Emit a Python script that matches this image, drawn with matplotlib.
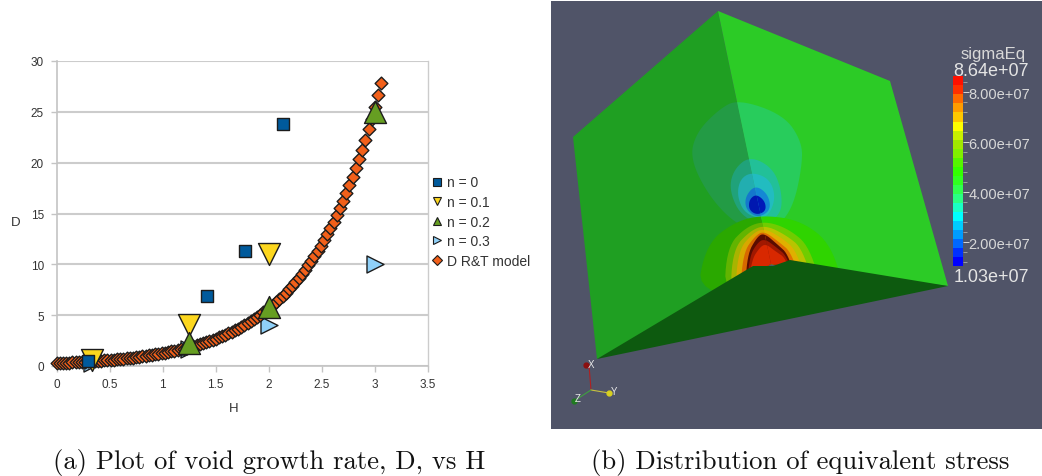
import matplotlib
matplotlib.use("Agg")
import matplotlib.pyplot as plt
from matplotlib.patches import Polygon
from matplotlib.lines import Line2D

W, H_PX = 1042, 477

# left panel data
model_h = [0, .03, .06, .09, .12, .15, .18, .21, .24, .27, .30, .33, .36, .39, .42, .45, .48, .51, .54, .57,
           .60, .63, .66, .69, .72, .75, .78, .81, .84, .87, .90, .93, .96, .99, 1.02, 1.05, 1.08, 1.11, 1.14, 1.17,
           1.20, 1.23, 1.26, 1.29, 1.32, 1.35, 1.38, 1.41, 1.44, 1.47, 1.50, 1.53, 1.56, 1.59, 1.62, 1.65, 1.68, 1.71, 1.74, 1.77,
           1.80, 1.83, 1.86, 1.89, 1.92, 1.95, 1.98, 2.01, 2.04, 2.07, 2.10, 2.13, 2.16, 2.19, 2.22, 2.25, 2.28, 2.31, 2.34, 2.37,
           2.40, 2.43, 2.46, 2.49, 2.52, 2.55, 2.58, 2.61, 2.64, 2.67, 2.70, 2.73, 2.76, 2.79, 2.82, 2.85, 2.88, 2.91, 2.94, 2.97,
           3.00, 3.03, 3.06]
model_d = [.283, .296, .310, .324, .339, .354, .371, .388, .406, .424, .444, .464, .486, .508, .531, .556, .581, .608, .636, .665,
           .696, .728, .761, .796, .833, .871, .911, .953, .997, 1.043, 1.091, 1.141, 1.194, 1.249, 1.306, 1.366, 1.429, 1.495, 1.564, 1.636,
           1.711, 1.790, 1.872, 1.958, 2.048, 2.143, 2.241, 2.345, 2.453, 2.565, 2.683, 2.807, 2.936, 3.071, 3.213, 3.360, 3.515, 3.677, 3.846, 4.023,
           4.208, 4.402, 4.604, 4.816, 5.038, 5.270, 5.512, 5.766, 6.031, 6.309, 6.599, 6.903, 7.221, 7.553, 7.901, 8.264, 8.645, 9.043, 9.459, 9.894,
           10.35, 10.83, 11.32, 11.85, 12.39, 12.96, 13.56, 14.18, 14.83, 15.52, 16.23, 16.98, 17.76, 18.58, 19.43, 20.33, 21.26, 22.24, 23.27, 24.34,
           25.46, 26.63, 27.85]
n0_h = [0.30, 1.415, 1.775, 2.13]
n0_d = [0.5, 6.9, 11.35, 23.85]
n1_h = [0.33, 1.25, 2.0]
n1_d = [0.6, 4.0, 11.0]
n2_h = [1.25, 2.0, 3.0]
n2_d = [2.3, 5.8, 25.0]
n3_h = [0.33, 1.25, 2.0, 3.0]
n3_d = [0.3, 1.7, 4.0, 10.0]

# colour bar of the right panel, bottom to top
bar_colors = ["#0000ff", "#0030ff", "#0068ff", "#009cff", "#00ccff", "#00ffff", "#1affc4", "#2aff84",
              "#30ff50", "#30ff20", "#33ff00", "#55f500", "#80f000", "#a0e800", "#c8f000", "#ffff00",
              "#ffc800", "#ff9c00", "#ff6a00", "#ff3000", "#ff1000"]
bar_min, bar_max = 1.03e7, 8.64e7
bar_ticks = [2e7, 4e7, 6e7, 8e7]
bar_labels = ["2.00e+07", "4.00e+07", "6.00e+07", "8.00e+07"]


def box(x0, y0, x1, y1):
    # pixel box (top-left origin) to figure fractions
    return [x0 / W, 1 - y1 / H_PX, (x1 - x0) / W, (y1 - y0) / H_PX]


def smooth(points, rounds=3):
    # corner cutting, so hand read outlines come out round
    for _ in range(rounds):
        new = []
        for i, (x, y) in enumerate(points):
            x2, y2 = points[(i + 1) % len(points)]
            new.append((0.75 * x + 0.25 * x2, 0.75 * y + 0.25 * y2))
            new.append((0.25 * x + 0.75 * x2, 0.25 * y + 0.75 * y2))
        points = new
    return points


fig = plt.figure(figsize=(W / 100, H_PX / 100), dpi=100)
plt.rcParams["font.family"] = "Liberation Sans"

ax = fig.add_axes(box(56.5, 62, 428, 367))
ax.set_xlim(0, 3.5)
ax.set_ylim(0, 30)
ax.set_xticks([0, 0.5, 1, 1.5, 2, 2.5, 3, 3.5])
ax.set_xticklabels(["0", "0.5", "1", "1.5", "2", "2.5", "3", "3.5"])
ax.set_yticks(range(0, 31, 5))
ax.grid(axis="y", color="#cccccc", lw=1.5)
ax.set_axisbelow(True)
for s in ["top", "right"]:
    ax.spines[s].set_visible(False)
ax.plot([3.5, 3.5], [0, 30], color="#cccccc", lw=1.0, clip_on=False, zorder=0.5)
for s in ["left", "bottom"]:
    ax.spines[s].set_color("#c4c4c4")
    ax.spines[s].set_linewidth(1.2)
ax.tick_params(colors="#c4c4c4", labelcolor="#333333", labelsize=8.5, length=4, pad=5, width=1)
fig.text(234 / W, 1 - 409 / H_PX, "H", fontsize=9.5, color="#333333", ha="center", va="center")
fig.text(15.5 / W, 1 - 223 / H_PX, "D", fontsize=9.5, color="#333333", ha="center", va="center")

edge = "#1c1c1c"
ax.scatter(n3_h, n3_d, marker=">", s=150, c="#8fd0f8", edgecolors=edge, linewidths=1.0, clip_on=False, zorder=3)
ax.scatter(model_h, model_d, marker="D", s=42, c="#f2601a", edgecolors=edge, linewidths=1.0, clip_on=False, zorder=4)
ax.scatter(n1_h, n1_d, marker="v", s=250, c="#fdd71e", edgecolors=edge, linewidths=1.0, clip_on=False, zorder=5)
ax.scatter(n2_h, n2_d, marker="^", s=250, c="#669e22", edgecolors=edge, linewidths=1.0, clip_on=False, zorder=6)
ax.scatter(n0_h, n0_d, marker="s", s=70, c="#005a9c", edgecolors=edge, linewidths=1.0, clip_on=False, zorder=7)

handles = [
    Line2D([], [], ls="", marker="s", ms=6, mfc="#005a9c", mec=edge, mew=0.8),
    Line2D([], [], ls="", marker="v", ms=6, mfc="#fdd71e", mec=edge, mew=0.8),
    Line2D([], [], ls="", marker="^", ms=6, mfc="#669e22", mec=edge, mew=0.8),
    Line2D([], [], ls="", marker=">", ms=6, mfc="#8fd0f8", mec=edge, mew=0.8),
    Line2D([], [], ls="", marker="D", ms=5.5, mfc="#f2601a", mec=edge, mew=0.8),
]
fig.legend(handles, ["n = 0", "n = 0.1", "n = 0.2", "n = 0.3", "D R&T model"], frameon=False,
           loc="upper left", bbox_to_anchor=(428 / W, 1 - 176.5 / H_PX), fontsize=10, labelcolor="#333333",
           handletextpad=0.1, labelspacing=0.4, borderpad=0, borderaxespad=0, handlelength=1.3)

# right panel, drawn in pixel coordinates
scene = fig.add_axes(box(551, 2, 1042, 430))
scene.set_xlim(551, 1042)
scene.set_ylim(430, 2)
scene.axis("off")
scene.add_patch(Polygon([(551, 2), (1042, 2), (1042, 430), (551, 430)], fc="#505468", ec="none"))

left_face = Polygon([(718, 12), (573, 138), (597, 360), (771, 265)], fc="#1f9f22", ec="none", zorder=1)
right_face = Polygon([(718, 12), (890, 82), (948, 287), (771, 265)], fc="#2ccb26", ec="none", zorder=1)
scene.add_patch(left_face)
scene.add_patch(right_face)

# stress contours above and round the void, outermost first
contours = [
    ([(738, 100), (784, 116), (802, 143), (802, 167), (794, 205), (780, 226), (763, 232), (738, 227), (710, 199),
      (690, 160), (696, 134), (718, 111)], "#239b45", "#28cc5c"),
    ([(750, 157), (773, 169), (782, 193), (781, 216), (762, 226), (740, 216), (729, 190), (734, 170)], "#20a27a", "#22c098"),
    ([(752, 173), (770, 180), (776, 200), (766, 221), (745, 215), (737, 197), (740, 180)], "#22aeb0", "#22bcc0"),
    ([(755, 186), (768, 195), (771, 211), (758, 219), (746, 211), (745, 198)], "#1478cc", "#1488d4"),
    ([(756, 195), (765, 202), (766, 212), (757, 216), (749, 211), (749, 201)], "#0018b0", "#0018b8"),
    ([(696, 300), (706, 245), (736, 222), (765, 216), (802, 222), (832, 246), (846, 300)], "#2aa800", "#2fd400"),
    ([(724, 300), (727, 248), (746, 228), (765, 222), (789, 230), (810, 248), (824, 300)], "#62b400", "#70cc00"),
    ([(730, 300), (733, 250), (750, 232), (765, 226), (786, 236), (803, 250), (817, 300)], "#a8b400", "#b8c400"),
    ([(735, 300), (738, 252), (752, 235), (764, 229), (782, 239), (797, 252), (811, 300)], "#d8a800", "#e0b000"),
    ([(740, 300), (743, 254), (755, 237), (764, 232), (779, 243), (792, 254), (806, 300)], "#d86800", "#e07000"),
    ([(745, 300), (747, 256), (757, 238), (764, 234), (777, 245), (789, 256), (801, 300)], "#5a0c00", "#5a0c00"),
    ([(747, 300), (749, 258), (758, 243), (765, 240), (776, 248), (788, 258), (799, 300)], "#a01800", "#a01800"),
    ([(748, 300), (751, 262), (760, 248), (766, 245), (775, 252), (787, 260), (797, 300)], "#d82800", "#d82800"),
]
for outline, c_left, c_right in contours:
    pts = smooth(outline)
    p = Polygon(pts, fc=c_left, ec="none", zorder=2)
    scene.add_patch(p)
    p.set_clip_path(left_face)
    p = Polygon(pts, fc=c_right, ec="none", zorder=2)
    scene.add_patch(p)
    p.set_clip_path(right_face)

scene.add_patch(Polygon([(597, 360), (753, 267), (773, 267), (790, 261), (948, 287)], fc="#0d5a0f", ec="none", zorder=4))

# orientation triad
scene.plot([591, 589], [391, 366], color="#b02020", lw=0.8, zorder=5)
scene.plot([591, 609], [391, 394], color="#c8c040", lw=0.8, zorder=5)
scene.plot([591, 574], [391, 402], color="#40a040", lw=0.8, zorder=5)
scene.plot([586], [366], marker="o", ms=3.5, color="#8c1010", zorder=5)
scene.plot([609], [394], marker="o", ms=3.5, color="#d8d020", zorder=5)
scene.plot([574], [402], marker="o", ms=3.5, color="#207a20", zorder=5)
scene.text(588, 365, "X", color="#e8e8e8", fontsize=7, ha="left", va="center", zorder=6)
scene.text(611, 392, "Y", color="#e8e8e8", fontsize=7, ha="left", va="center", zorder=6)
scene.text(575, 399, "Z", color="#e8e8e8", fontsize=7, ha="left", va="center", zorder=6)

# colour bar
cbar = fig.add_axes(box(953.3, 77.3, 962.7, 267.3))
step = (bar_max - bar_min) / len(bar_colors)
for i, c in enumerate(bar_colors):
    cbar.axhspan(bar_min + i * step, bar_min + (i + 1) * step, color=c, lw=0)
cbar.set_ylim(bar_min, bar_max)
cbar.set_xticks([])
cbar.yaxis.tick_right()
cbar.set_yticks(bar_ticks)
cbar.set_yticklabels(bar_labels)
cbar.set_yticks([i * 4e6 for i in range(3, 22)], minor=True)
cbar.tick_params(axis="y", which="major", colors="#d8d8d8", labelsize=10.5, length=4, width=0.7, pad=0)
cbar.tick_params(axis="y", which="minor", colors="#a8a8a8", length=3, width=0.6)
for s in cbar.spines.values():
    s.set_visible(False)

fig.text(993 / W, 1 - 54 / H_PX, "sigmaEq", color="#d8d8d8", fontsize=12, ha="center", va="center")
fig.text(991 / W, 1 - 71 / H_PX, "8.64e+07", color="#e4e4e4", fontsize=13, ha="center", va="center")
fig.text(991 / W, 1 - 278 / H_PX, "1.03e+07", color="#e4e4e4", fontsize=13, ha="center", va="center")

# captions
fig.text(269 / W, 1 - 463 / H_PX, "(a) Plot of void growth rate, D, vs H", family="cmr10", fontsize=19.2,
         color="#111111", ha="center", va="center")
fig.text(800 / W, 1 - 463 / H_PX, "(b) Distribution of equivalent stress", family="cmr10", fontsize=19.2,
         color="#111111", ha="center", va="center")

fig.savefig("out.png", dpi=100)
